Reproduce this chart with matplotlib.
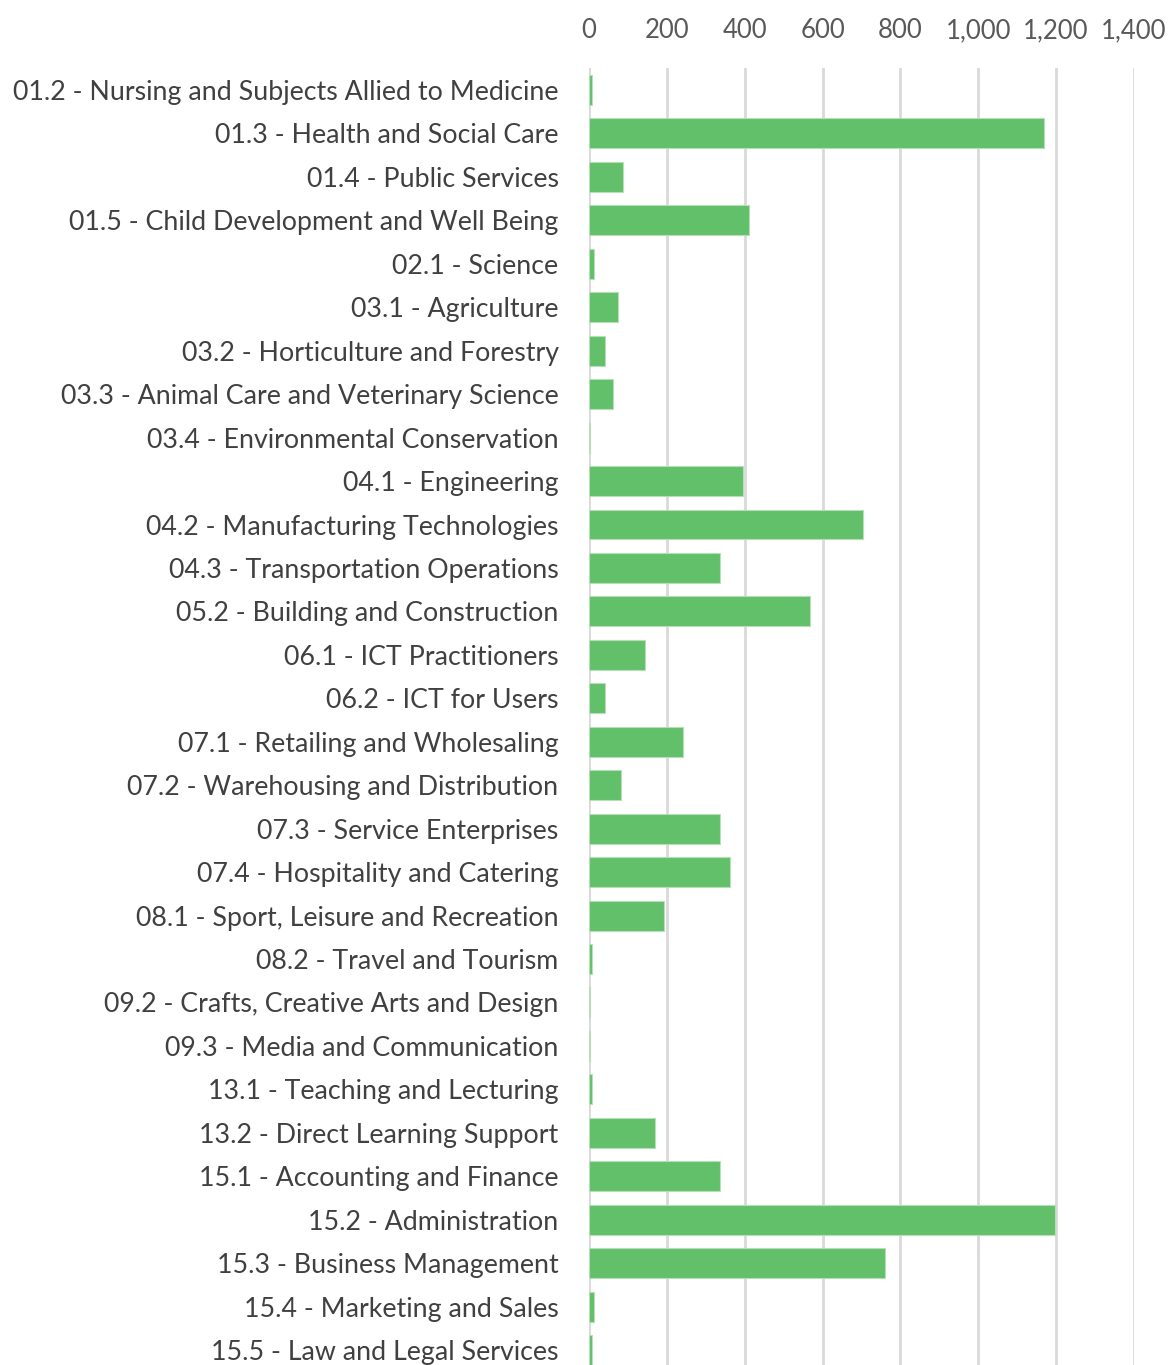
import matplotlib
matplotlib.use("Agg")
import matplotlib.pyplot as plt
from matplotlib.ticker import FuncFormatter

# ── data ──────────────────────────────────────────────────────────────────────

CATEGORIES = [
    "01.2 - Nursing and Subjects Allied to Medicine",
    "01.3 - Health and Social Care",
    "01.4 - Public Services",
    "01.5 - Child Development and Well Being",
    "02.1 - Science",
    "03.1 - Agriculture",
    "03.2 - Horticulture and Forestry",
    "03.3 - Animal Care and Veterinary Science",
    "03.4 - Environmental Conservation",
    "04.1 - Engineering",
    "04.2 - Manufacturing Technologies",
    "04.3 - Transportation Operations",
    "05.2 - Building and Construction",
    "06.1 - ICT Practitioners",
    "06.2 - ICT for Users",
    "07.1 - Retailing and Wholesaling",
    "07.2 - Warehousing and Distribution",
    "07.3 - Service Enterprises",
    "07.4 - Hospitality and Catering",
    "08.1 - Sport, Leisure and Recreation",
    "08.2 - Travel and Tourism",
    "09.2 - Crafts, Creative Arts and Design",
    "09.3 - Media and Communication",
    "13.1 - Teaching and Lecturing",
    "13.2 - Direct Learning Support",
    "15.1 - Accounting and Finance",
    "15.2 - Administration",
    "15.3 - Business Management",
    "15.4 - Marketing and Sales",
    "15.5 - Law and Legal Services",
]

VALUES = [8, 1170, 88, 410, 13, 75, 41, 62, 1, 395, 705, 335, 568, 144,
          41, 240, 82, 335, 362, 192, 8, 1, 1, 7, 170, 335, 1197, 760, 13, 7]

X_TICKS = [0, 200, 400, 600, 800, 1000, 1200, 1400]

# ── plot ──────────────────────────────────────────────────────────────────────

plt.rcParams["font.family"] = ["Lato", "DejaVu Sans"]

fig = plt.figure(figsize=(11.69, 13.65), dpi=100)
ax = fig.add_axes([0.504, -0.005, 0.466, 0.955])

ax.barh(range(len(CATEGORIES)), VALUES, height=0.69,
        color="#62BF6A", edgecolor="#B5DFB7", linewidth=0.8, zorder=3)

ax.set_ylim(len(CATEGORIES) - 0.5, -0.5)
ax.set_xlim(0, 1400)
ax.set_yticks(range(len(CATEGORIES)))
ax.set_yticklabels(CATEGORIES, fontsize=19.3, color="#404040")
ax.set_xticks(X_TICKS)
ax.xaxis.set_major_formatter(FuncFormatter(lambda v, p: f"{int(v):,}"))
ax.xaxis.tick_top()
ax.tick_params(axis="x", length=0, pad=18, labelsize=18.5, labelcolor="#595959")
ax.tick_params(axis="y", length=0, pad=22)

ax.grid(axis="x", color="#D9D9D9", linewidth=2, zorder=0)
for s in ax.spines.values():
    s.set_visible(False)

plt.savefig("out.png", dpi=100)
